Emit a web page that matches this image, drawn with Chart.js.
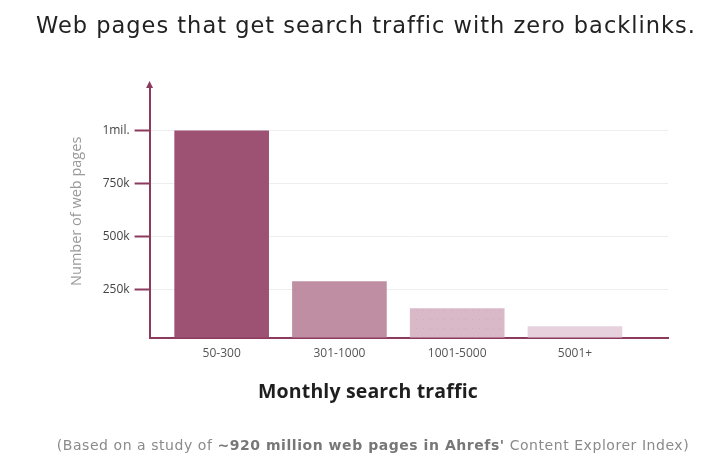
<!DOCTYPE html>
<html>
<head>
<meta charset="utf-8">
<script src="https://cdn.jsdelivr.net/npm/chart.js@4"></script>
<style>
  html, body { margin: 0; padding: 0; background: #fff; }
  #wrap { position: relative; width: 716px; height: 471px; overflow: hidden; }
  #my-chart { position: absolute; left: 0; top: 0; }
  .txt { position: absolute; white-space: nowrap; transform: translateX(-50%); }
  #title {
    left: 366px; top: 12px;
    font-family: "DejaVu Sans", sans-serif; font-size: 22.5px; letter-spacing: 1px; color: #222;
  }
  #xtitle {
    left: 368px; top: 377px;
    font-family: "Open Sans", sans-serif; font-size: 19.5px; font-weight: bold; letter-spacing: 0.15px; color: #1e1e1e;
  }
  #note {
    left: 373px; top: 437px;
    font-family: "DejaVu Sans", sans-serif; font-size: 14px; letter-spacing: 0.55px; color: #8a8a8a;
  }
  #note b { color: #777; }
</style>
</head>
<body>
<div id="wrap">
  <canvas id="my-chart" width="716" height="471"></canvas>
  <div id="title" class="txt">Web pages that get search traffic with zero backlinks.</div>
  <div id="xtitle" class="txt">Monthly search traffic</div>
  <div id="note" class="txt">(Based on a study of <b>~920 million web pages in Ahrefs'</b> Content Explorer Index)</div>
</div>
<script>
// data
const categories = ['50-300', '301-1000', '1001-5000', '5001+']
const pageCounts = [1000000, 288000, 161000, 76000]
const yTicks = [250000, 500000, 750000, 1000000]
const yTickLabels = ['250k', '500k', '750k', '1mil.']
const barColors = ['#9d5274', '#c08ea3', 'dots', '#e6d1dc']

const axisColor = '#8c3a5e'

//little dotted fill for the third bar
function dotPattern(){
    let c = document.createElement('canvas')
    c.width = 7
    c.height = 9
    let g = c.getContext('2d')
    g.fillStyle = '#d9b9c8'
    g.fillRect(0, 0, 7, 9)
    g.fillStyle = '#cfaabb'
    g.fillRect(3, 4, 1, 1)
    return g.createPattern(c, 'repeat')
}

//arrow on top of the y axis
const arrowPlugin = {
    id: 'arrow',
    afterDraw(chart){
        let ctx = chart.ctx
        let a = chart.chartArea
        ctx.save()
        ctx.fillStyle = axisColor
        ctx.beginPath()
        ctx.moveTo(a.left, a.top - 4)
        ctx.lineTo(a.left - 3.5, a.top + 3)
        ctx.lineTo(a.left + 3.5, a.top + 3)
        ctx.closePath()
        ctx.fill()
        ctx.restore()
    }
}

const yMin = 24000
const yMax = 1216000

let ctx = document.getElementById('my-chart').getContext('2d')
let chart = new Chart(ctx, {
    type: 'bar',
    data: {
        datasets: [{
            data: pageCounts.map((v, i) => ({ x: i, y: v })),
            backgroundColor: barColors.map(c => c === 'dots' ? dotPattern() : c),
            barThickness: 94,
            base: yMin
        }]
    },
    options: {
        responsive: false,
        animation: false,
        layout: { padding: { left: 68, right: 48, top: 85, bottom: 109 } },
        plugins: { legend: { display: false }, tooltip: { enabled: false } },
        scales: {
            x: {
                type: 'linear',
                offset: false,
                min: -0.612,
                max: 3.79,
                afterBuildTicks: axis => { axis.ticks = categories.map((c, i) => ({ value: i })) },
                ticks: {
                    callback: v => categories[v],
                    color: '#555',
                    font: { family: 'Open Sans', size: 12 },
                    padding: 1,
                    autoSkip: false,
                    maxRotation: 0
                },
                grid: { display: false },
                border: { color: axisColor, width: 2 }
            },
            y: {
                min: yMin,
                max: yMax,
                afterBuildTicks: axis => { axis.ticks = yTicks.map(v => ({ value: v })) },
                ticks: {
                    callback: (v) => yTickLabels[yTicks.indexOf(v)],
                    color: '#444',
                    font: { family: 'Open Sans', size: 12 },
                    padding: 5
                },
                grid: {
                    color: '#eeeeee',
                    lineWidth: 1,
                    tickColor: axisColor,
                    tickWidth: 2,
                    tickLength: 15
                },
                border: { color: axisColor, width: 2 },
                title: {
                    display: true,
                    text: 'Number of web pages',
                    color: '#999',
                    font: { family: 'Open Sans', size: 14.5 },
                    padding: { top: 0, bottom: 12 }
                }
            }
        }
    },
    plugins: [arrowPlugin]
})
</script>
</body>
</html>
